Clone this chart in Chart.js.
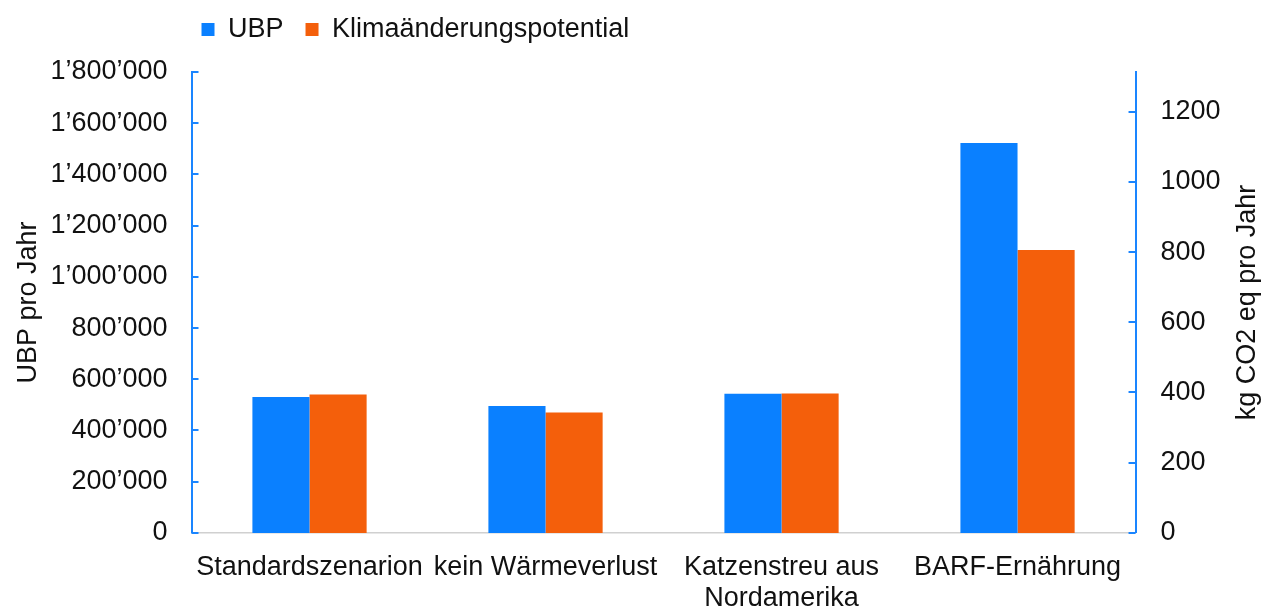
<!DOCTYPE html>
<html>
<head>
<meta charset="utf-8">
<script src="https://cdn.jsdelivr.net/npm/chart.js@4.4.1/dist/chart.umd.min.js"></script>
<style>
html,body{margin:0;padding:0;background:#fff;}
#wrap{width:1271px;height:610px;position:relative;}
</style>
</head>
<body>
<div id="wrap"><canvas id="c" width="1271" height="610"></canvas></div>
<script>
const categories = ["Standardszenarion", "kein Wärmeverlust", ["Katzenstreu aus", "Nordamerika"], "BARF-Ernährung"];
const ubpValues = [531000, 496000, 543000, 1523000];
const klimaValues = [394, 343, 397, 806];
const seriesNames = ["UBP", "Klimaänderungspotential"];
const leftAxisTitle = "UBP pro Jahr";
const rightAxisTitle = "kg CO2 eq pro Jahr";

const BLUE = '#0a80ff';
const ORANGE = '#f45f0b';
const AXISBLUE = '#1a85ff';
const FONT = "'Liberation Sans', Arial, sans-serif";
const FS = 27;

function fmt(v){
  return String(Math.round(v)).replace(/\B(?=(\d{3})+(?!\d))/g, "\u2019");
}

const innerTicks = {
  id: 'innerTicks',
  afterDraw(chart){
    const ctx = chart.ctx;
    ctx.save();
    ctx.strokeStyle = AXISBLUE;
    ctx.lineWidth = 2;
    const y = chart.scales.y, y1 = chart.scales.y1;
    y.ticks.forEach(t => {
      const p = Math.round(y.getPixelForValue(t.value));
      ctx.beginPath(); ctx.moveTo(y.right, p); ctx.lineTo(y.right + 7, p); ctx.stroke();
    });
    y1.ticks.forEach(t => {
      const p = Math.round(y1.getPixelForValue(t.value));
      ctx.beginPath(); ctx.moveTo(y1.left, p); ctx.lineTo(y1.left - 7, p); ctx.stroke();
    });
    // right axis title, reading bottom-to-top like the left one
    const ca = chart.chartArea;
    ctx.fillStyle = '#111';
    ctx.font = FS + "px " + FONT;
    ctx.textAlign = 'center';
    ctx.textBaseline = 'middle';
    ctx.translate(y1.right - 4 - FS * 0.6, (ca.top + ca.bottom) / 2);
    ctx.rotate(-Math.PI / 2);
    ctx.fillText(rightAxisTitle, 0, 0);
    ctx.restore();
  }
};

const legendGap = {
  id: 'legendGap',
  beforeInit(chart){
    const fit = chart.legend.fit;
    chart.legend.fit = function(){
      fit.bind(this)();
      this.height += 19;
    };
  },
  afterLayout(chart){
    chart.legend.left -= 12;
    chart.legend.right -= 12;
  }
};

new Chart(document.getElementById('c'), {
  type: 'bar',
  data: {
    labels: categories,
    datasets: [
      {label: seriesNames[0], data: ubpValues, backgroundColor: BLUE, yAxisID: 'y',
       categoryPercentage: 0.484, barPercentage: 1.0},
      {label: seriesNames[1], data: klimaValues, backgroundColor: ORANGE, yAxisID: 'y1',
       categoryPercentage: 0.484, barPercentage: 1.0}
    ]
  },
  options: {
    responsive: false,
    animation: false,
    devicePixelRatio: 1,
    layout: {padding: {left: 12, right: 3, top: -6, bottom: -23}},
    plugins: {
      legend: {
        position: 'top',
        align: 'start',
        fullSize: false,
        labels: {
          boxWidth: 13, boxHeight: 13, padding: 22,
          color: '#111',
          font: {family: FONT, size: FS}
        }
      },
      tooltip: {enabled: false}
    },
    scales: {
      x: {
        grid: {display: false, drawTicks: false},
        border: {display: true, color: '#d0d0d0', width: 1.5},
        ticks: {color: '#111', font: {family: FONT, size: FS, lineHeight: 1.15}, padding: 19, maxRotation: 0, autoSkip: false}
      },
      y: {
        position: 'left',
        min: 0, max: 1800000,
        grid: {display: false, drawTicks: false},
        border: {display: true, color: AXISBLUE, width: 2},
        ticks: {stepSize: 200000, color: '#111', padding: 24, font: {family: FONT, size: FS}, callback: v => fmt(v)},
        title: {display: true, text: leftAxisTitle, color: '#111', font: {family: FONT, size: FS}, padding: {top: 0, bottom: -18}}
      },
      y1: {
        position: 'right',
        min: 0, max: 1313,
        grid: {display: false, drawTicks: false},
        border: {display: true, color: AXISBLUE, width: 2},
        ticks: {stepSize: 200, includeBounds: false, color: '#111', padding: 25, font: {family: FONT, size: FS}, callback: v => String(v)},
        title: {display: true, text: ' ', color: '#111', font: {family: FONT, size: FS}, padding: {top: 4, bottom: -14}}
      }
    }
  },
  plugins: [innerTicks, legendGap]
});
</script>
</body>
</html>
